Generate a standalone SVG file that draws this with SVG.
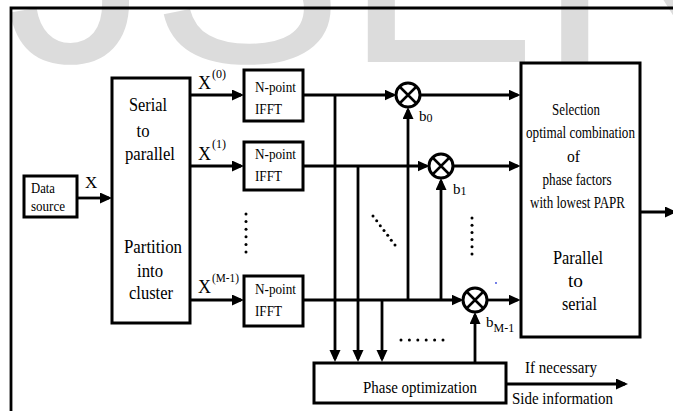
<svg xmlns="http://www.w3.org/2000/svg" width="673" height="411" viewBox="0 0 673 411">
<defs>
<style>
.box{fill:#fff;stroke:#000;stroke-width:3}
.ln{fill:none;stroke:#000;stroke-width:2.8}
.arr{fill:none;stroke:#000;stroke-width:2.8;marker-end:url(#ah)}
.dot{fill:#000}
.mul circle{fill:#fff;stroke:#000;stroke-width:3}
.mul path{stroke:#000;stroke-width:2.5}
</style>
<marker id="ah" markerUnits="userSpaceOnUse" markerWidth="13" markerHeight="12" refX="9" refY="5.5" orient="auto">
<path d="M0,0 L12,5.5 L0,11 z" fill="#000"/>
</marker>
</defs>
<rect width="673" height="411" fill="#fff"/>
<text x="-75" y="62" font-family="Liberation Sans, Arial, sans-serif" font-size="290" fill="#dcdcdc">IJSER</text>
<g id="frame"><path d="M11,411 V8 H673" class="ln" stroke-width="2.2"/></g>

<g id="connectors">
<path class="arr" d="M77,198 H109"/>
<path class="arr" d="M190,95 H241"/>
<path class="arr" d="M190,166 H241"/>
<path class="arr" d="M190,300 H241"/>
<path class="arr" d="M303,95 H393.5"/>
<path class="arr" d="M420,95 H517.5"/>
<path class="arr" d="M303,166 H426.5"/>
<path class="arr" d="M453,166 H517.5"/>
<path class="arr" d="M303,300 H460.5"/>
<path class="arr" d="M487,300 H517.5"/>
<path class="arr" d="M335,95 V359"/>
<path class="arr" d="M358,166 V359"/>
<path class="arr" d="M382,300 V359"/>
<path class="arr" d="M408,300 V110"/>
<path class="arr" d="M441,300 V181"/>
<path class="arr" d="M475,363 V315"/>
<path class="arr" d="M640,212 H674"/>
<path class="arr" d="M506,384 H625"/>
</g>

<g font-family="Liberation Serif, Times New Roman, DejaVu Serif, serif" fill="#000">
<g id="labels">
<text x="85" y="188" font-size="17">X</text>
<text x="198" y="89" font-size="18">X</text>
<text x="212" y="78" font-size="12">(0)</text>
<text x="198" y="160" font-size="18">X</text>
<text x="212" y="148" font-size="12">(1)</text>
<text x="198" y="293" font-size="18">X</text>
<text x="212" y="282" font-size="12" textLength="27" lengthAdjust="spacingAndGlyphs">(M-1)</text>
<text x="419" y="121" font-size="15">b<tspan font-size="12" dy="1">0</tspan></text>
<text x="453" y="194" font-size="15">b<tspan font-size="12" dy="1">1</tspan></text>
<text x="486" y="327" font-size="15">b<tspan font-size="12" dy="5">M-1</tspan></text>
<text x="525" y="373" font-size="17" textLength="72" lengthAdjust="spacingAndGlyphs">If necessary</text>
<text x="512" y="404" font-size="17" textLength="101" lengthAdjust="spacingAndGlyphs">Side information</text>
</g>

<g id="dots">
<circle class="dot" cx="246" cy="214" r="1.5"/><circle class="dot" cx="246" cy="221.6" r="1.5"/><circle class="dot" cx="246" cy="229.2" r="1.5"/><circle class="dot" cx="246" cy="236.8" r="1.5"/><circle class="dot" cx="246" cy="244.4" r="1.5"/><circle class="dot" cx="246" cy="252" r="1.5"/>
<circle class="dot" cx="373" cy="216" r="1.5"/><circle class="dot" cx="376.7" cy="220.8" r="1.5"/><circle class="dot" cx="380.3" cy="225.7" r="1.5"/><circle class="dot" cx="384" cy="230.5" r="1.5"/><circle class="dot" cx="387.7" cy="235.3" r="1.5"/><circle class="dot" cx="391.3" cy="240.2" r="1.5"/><circle class="dot" cx="395" cy="245" r="1.5"/>
<circle class="dot" cx="472" cy="218" r="1.5"/><circle class="dot" cx="472" cy="225.2" r="1.5"/><circle class="dot" cx="472" cy="232.4" r="1.5"/><circle class="dot" cx="472" cy="239.6" r="1.5"/><circle class="dot" cx="472" cy="246.8" r="1.5"/><circle class="dot" cx="472" cy="254" r="1.5"/>
<circle class="dot" cx="401" cy="340" r="1.5"/><circle class="dot" cx="409.4" cy="340" r="1.5"/><circle class="dot" cx="417.8" cy="340" r="1.5"/><circle class="dot" cx="426.2" cy="340" r="1.5"/><circle class="dot" cx="434.6" cy="340" r="1.5"/><circle class="dot" cx="443" cy="340" r="1.5"/>
<circle cx="496" cy="283" r="0.9" fill="#3344dd"/>
</g>

<g id="data-source">
<rect class="box" x="24" y="176" width="53" height="41"/>
<text x="31" y="193" font-size="14" textLength="24" lengthAdjust="spacingAndGlyphs">Data</text>
<text x="31" y="211" font-size="14" textLength="34" lengthAdjust="spacingAndGlyphs">source</text>
</g>

<g id="serial-to-parallel" text-anchor="middle">
<rect class="box" x="112" y="78" width="78" height="245"/>
<text x="148" y="111" font-size="19" textLength="38" lengthAdjust="spacingAndGlyphs">Serial</text>
<text x="143" y="137" font-size="19" textLength="13" lengthAdjust="spacingAndGlyphs">to</text>
<text x="150" y="160" font-size="19" textLength="50" lengthAdjust="spacingAndGlyphs">parallel</text>
<text x="153" y="253" font-size="19" textLength="58" lengthAdjust="spacingAndGlyphs">Partition</text>
<text x="150" y="277" font-size="19" textLength="26" lengthAdjust="spacingAndGlyphs">into</text>
<text x="151" y="299" font-size="19" textLength="44" lengthAdjust="spacingAndGlyphs">cluster</text>
</g>

<g id="ifft-0">
<rect class="box" x="244" y="70" width="59" height="51"/>
<text x="255" y="92" font-size="14.5" textLength="41" lengthAdjust="spacingAndGlyphs">N-point</text>
<text x="255" y="114" font-size="14.5" textLength="27" lengthAdjust="spacingAndGlyphs">IFFT</text>
</g>
<g id="ifft-1">
<rect class="box" x="244" y="142" width="59" height="48"/>
<text x="255" y="159" font-size="14.5" textLength="41" lengthAdjust="spacingAndGlyphs">N-point</text>
<text x="255" y="181" font-size="14.5" textLength="27" lengthAdjust="spacingAndGlyphs">IFFT</text>
</g>
<g id="ifft-m1">
<rect class="box" x="244" y="276" width="59" height="50"/>
<text x="255" y="294" font-size="14.5" textLength="41" lengthAdjust="spacingAndGlyphs">N-point</text>
<text x="255" y="316" font-size="14.5" textLength="27" lengthAdjust="spacingAndGlyphs">IFFT</text>
</g>

<g id="mult-0" class="mul"><circle cx="408" cy="95" r="12"/><path d="M399.5,86.5 L416.5,103.5 M416.5,86.5 L399.5,103.5"/></g>
<g id="mult-1" class="mul"><circle cx="441" cy="166" r="12"/><path d="M432.5,157.5 L449.5,174.5 M449.5,157.5 L432.5,174.5"/></g>
<g id="mult-m1" class="mul"><circle cx="475" cy="300" r="12"/><path d="M466.5,291.5 L483.5,308.5 M483.5,291.5 L466.5,308.5"/></g>

<g id="selection" text-anchor="middle">
<rect class="box" x="521" y="63" width="119" height="274"/>
<text x="576" y="115" font-size="17" textLength="48" lengthAdjust="spacingAndGlyphs">Selection</text>
<text x="580.5" y="138" font-size="17" textLength="109" lengthAdjust="spacingAndGlyphs">optimal combination</text>
<text x="573.5" y="162" font-size="17" textLength="13" lengthAdjust="spacingAndGlyphs">of</text>
<text x="577" y="185" font-size="17" textLength="69" lengthAdjust="spacingAndGlyphs">phase factors</text>
<text x="577.5" y="208" font-size="17" textLength="95" lengthAdjust="spacingAndGlyphs">with lowest PAPR</text>
<text x="578" y="264" font-size="19" textLength="50" lengthAdjust="spacingAndGlyphs">Parallel</text>
<text x="575.5" y="287" font-size="19" textLength="15" lengthAdjust="spacingAndGlyphs">to</text>
<text x="579.5" y="310" font-size="19" textLength="35" lengthAdjust="spacingAndGlyphs">serial</text>
</g>

<g id="phase-optimization">
<rect class="box" x="314" y="363" width="192" height="40"/>
<text x="363" y="393" font-size="17" textLength="114" lengthAdjust="spacingAndGlyphs">Phase optimization</text>
</g>
</g>
</svg>
